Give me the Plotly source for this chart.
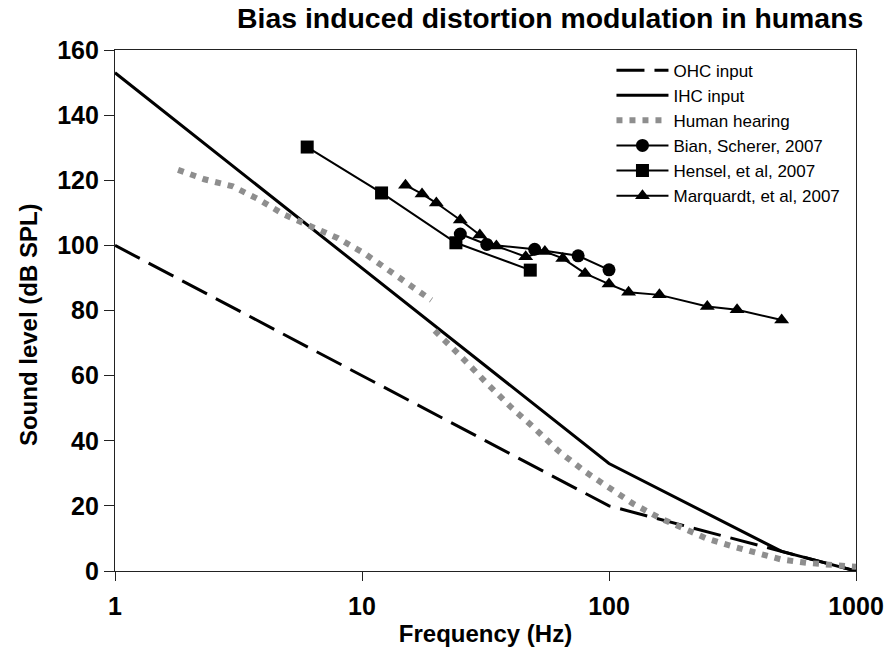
import plotly.graph_objects as go

# ---- data ----
ohc_f = [1, 10, 100, 1000]
ohc_db = [100, 60, 20, 0]

ihc_f = [1, 10, 100, 500, 1000]
ihc_db = [153, 93, 33, 6, 0]

hear_f = [1.8, 2.3, 3.0, 3.8, 4.85, 6.25, 8.0, 10.2, 13.2, 16.9, 19.1, None,
          19.7, 22.3, 25, 31.5, 40, 50, 63, 80, 100, 125, 160, 200, 250, 315,
          400, 500, 630, 800, 1000]
hear_db = [123.2, 120.3, 118.1, 114.2, 109.4, 105.5, 102.2, 97.6, 91.9, 86.1, 83.2, None,
           73.8, 69.9, 66.1, 58.2, 50.4, 43.8, 36.6, 30.5, 25.6, 20.7, 16.3, 12.9, 9.9, 7.6,
           5.3, 3.5, 2.5, 1.9, 1.3]

bian_f = [25, 32, 50, 75, 100]
bian_db = [103.5, 100.3, 98.8, 96.8, 92.5]

hensel_f = [6, 12, 24, 48]
hensel_db = [130.2, 116.1, 100.8, 92.4]

marq_f = [15, 17.5, 20, 25, 30, 35, 46, 55, 65, 80, 100, 120, 160, 250, 330, 500]
marq_db = [118.5, 115.8, 113.0, 107.8, 103.2, 99.8, 96.5, 98.1, 96.0, 91.4, 88.1, 85.6,
           84.8, 81.2, 80.2, 77.1]

title_text = "Bias induced distortion modulation in humans"
x_title = "Frequency (Hz)"
y_title = "Sound level (dB SPL)"
x_ticks = [1, 10, 100, 1000]
x_ticklabels = ["1", "10", "100", "1000"]
y_ticks = [0, 20, 40, 60, 80, 100, 120, 140, 160]

FONT = "Liberation Sans, Arial, sans-serif"

fig = go.Figure()
fig.add_trace(go.Scatter(x=ohc_f, y=ohc_db, mode="lines", name="OHC input",
                         line=dict(color="black", width=3, dash="28px,10px")))
fig.add_trace(go.Scatter(x=ihc_f, y=ihc_db, mode="lines", name="IHC input",
                         line=dict(color="black", width=3)))
fig.add_trace(go.Scatter(x=hear_f, y=hear_db, mode="lines", name="Human hearing",
                         connectgaps=False,
                         line=dict(color="#8e8e8e", width=6, dash="6px,7px")))
fig.add_trace(go.Scatter(x=bian_f, y=bian_db, mode="lines+markers", name="Bian, Scherer, 2007",
                         line=dict(color="black", width=2),
                         marker=dict(symbol="circle", size=13, color="black")))
fig.add_trace(go.Scatter(x=hensel_f, y=hensel_db, mode="lines+markers", name="Hensel, et al, 2007",
                         line=dict(color="black", width=2),
                         marker=dict(symbol="square", size=13, color="black")))
fig.add_trace(go.Scatter(x=marq_f, y=marq_db, mode="lines+markers", name="Marquardt, et al, 2007",
                         line=dict(color="black", width=2),
                         marker=dict(symbol="triangle-up", size=13, color="black")))

fig.update_layout(
    width=886, height=654,
    paper_bgcolor="white", plot_bgcolor="white",
    margin=dict(l=115, r=30, t=50, b=83, autoexpand=False),
    font=dict(family=FONT, color="black"),
    title=dict(text="<b>" + title_text + "</b>", x=0.621, xref="container", xanchor="center",
               y=0.972, yref="container", yanchor="middle",
               font=dict(size=28.4, family=FONT, color="black")),
    showlegend=True,
    legend=dict(x=0.67, y=0.995, xanchor="left", yanchor="top",
                bgcolor="rgba(0,0,0,0)", borderwidth=0,
                font=dict(size=17, family=FONT, color="black"),
                itemwidth=52, traceorder="normal"),
    annotations=[dict(text="<b>" + y_title + "</b>", xref="paper", yref="paper",
                      x=-0.1174, y=0.472, xanchor="center", yanchor="middle",
                      textangle=-90, showarrow=False,
                      font=dict(size=24, family=FONT, color="black"))],
)

fig.update_xaxes(type="log", range=[0, 3], tickvals=x_ticks, ticktext=x_ticklabels,
                 ticks="outside", ticklen=9, tickwidth=1.2, tickcolor="#222",
                 showline=True, linecolor="#222", linewidth=1.2, mirror=True,
                 showgrid=False, zeroline=False, automargin=False,
                 ticklabelstandoff=4,
                 tickfont=dict(size=25, family=FONT, color="black", weight="bold"),
                 title=dict(text="<b>" + x_title + "</b>", standoff=6,
                            font=dict(size=24, family=FONT, color="black")))
fig.update_yaxes(range=[0, 160], tickvals=y_ticks,
                 ticks="outside", ticklen=10, tickwidth=1.2, tickcolor="#222",
                 showline=True, linecolor="#222", linewidth=1.2, mirror=True,
                 showgrid=False, zeroline=False, automargin=False,
                 tickfont=dict(size=25, family=FONT, color="black", weight="bold"))

fig.write_html("out.html", config={"displayModeBar": False},
               post_script="document.body.style.margin='0';document.body.style.padding='0';"
                           "document.body.style.overflow='hidden';")
